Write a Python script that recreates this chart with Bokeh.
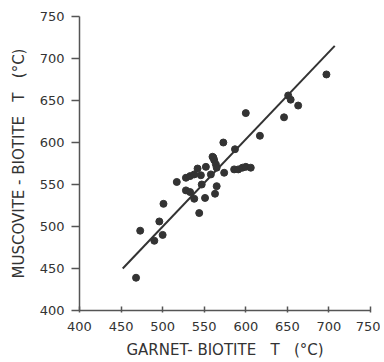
from bokeh.plotting import figure
from bokeh.embed import file_html
from bokeh.resources import INLINE
from bokeh.models import FixedTicker, Range1d

# Data
garnet_biotite = [468, 473, 490, 496, 500, 501, 517, 528, 533, 528, 533, 538, 538, 542, 544,
                  546, 547, 552, 551, 558, 560, 562, 564, 565, 563, 565, 574, 586, 591, 596,
                  600, 606, 561, 573, 587, 600, 617, 646, 651, 654, 663, 697]
muscovite_biotite = [439, 495, 483, 506, 490, 527, 553, 543, 541, 558, 560, 562, 533, 569, 516,
                     561, 550, 571, 534, 562, 583, 579, 574, 570, 539, 548, 564, 568, 568, 570,
                     571, 570, 582, 600, 592, 635, 608, 630, 656, 651, 644, 681]
fit_x = [452, 707]
fit_y = [450, 715]
ticks = [400, 450, 500, 550, 600, 650, 700, 750]

ink = "#333333"
font = "DejaVu Sans"
sp = "\u00a0"

p = figure(width=380, height=362, output_backend="svg", toolbar_location=None,
           x_range=Range1d(400, 750), y_range=Range1d(400, 750),
           min_border_left=79, min_border_right=10, min_border_top=16, min_border_bottom=52)
p.outline_line_color = None
p.grid.visible = False
p.background_fill_color = "white"

p.line(fit_x, fit_y, line_color=ink, line_width=2)
p.scatter(garnet_biotite, muscovite_biotite, size=7, fill_color=ink, line_color=ink)

for ax in (p.xaxis[0], p.yaxis[0]):
    ax.ticker = FixedTicker(ticks=ticks)
    ax.minor_tick_line_color = None
    ax.axis_line_color = "#555555"
    ax.axis_line_width = 1.5
    ax.major_tick_line_color = "#555555"
    ax.major_tick_line_width = 1.5
    ax.major_label_text_font = font
    ax.major_label_text_font_size = "13px"
    ax.major_label_text_color = ink
    ax.axis_label_text_font = font
    ax.axis_label_text_font_style = "normal"
    ax.axis_label_text_color = ink

p.xaxis.major_tick_in = 4
p.xaxis.major_tick_out = 2
p.xaxis.major_label_standoff = 9
p.xaxis.axis_label = "GARNET-" + sp + "BIOTITE" + sp * 3 + "T" + sp * 3 + "(°C)"
p.xaxis.axis_label_text_font_size = "15px"
p.xaxis.axis_label_standoff = 7

p.yaxis.major_tick_in = 0
p.yaxis.major_tick_out = 8
p.yaxis.major_label_standoff = 7
p.yaxis.axis_label = "MUSCOVITE" + sp + "-" + sp + "BIOTITE" + sp * 3 + "T" + sp * 3 + "(°C)"
p.yaxis.axis_label_text_font_size = "15px"
p.yaxis.axis_label_standoff = 9

open("out.html", "w").write(file_html(p, INLINE))
